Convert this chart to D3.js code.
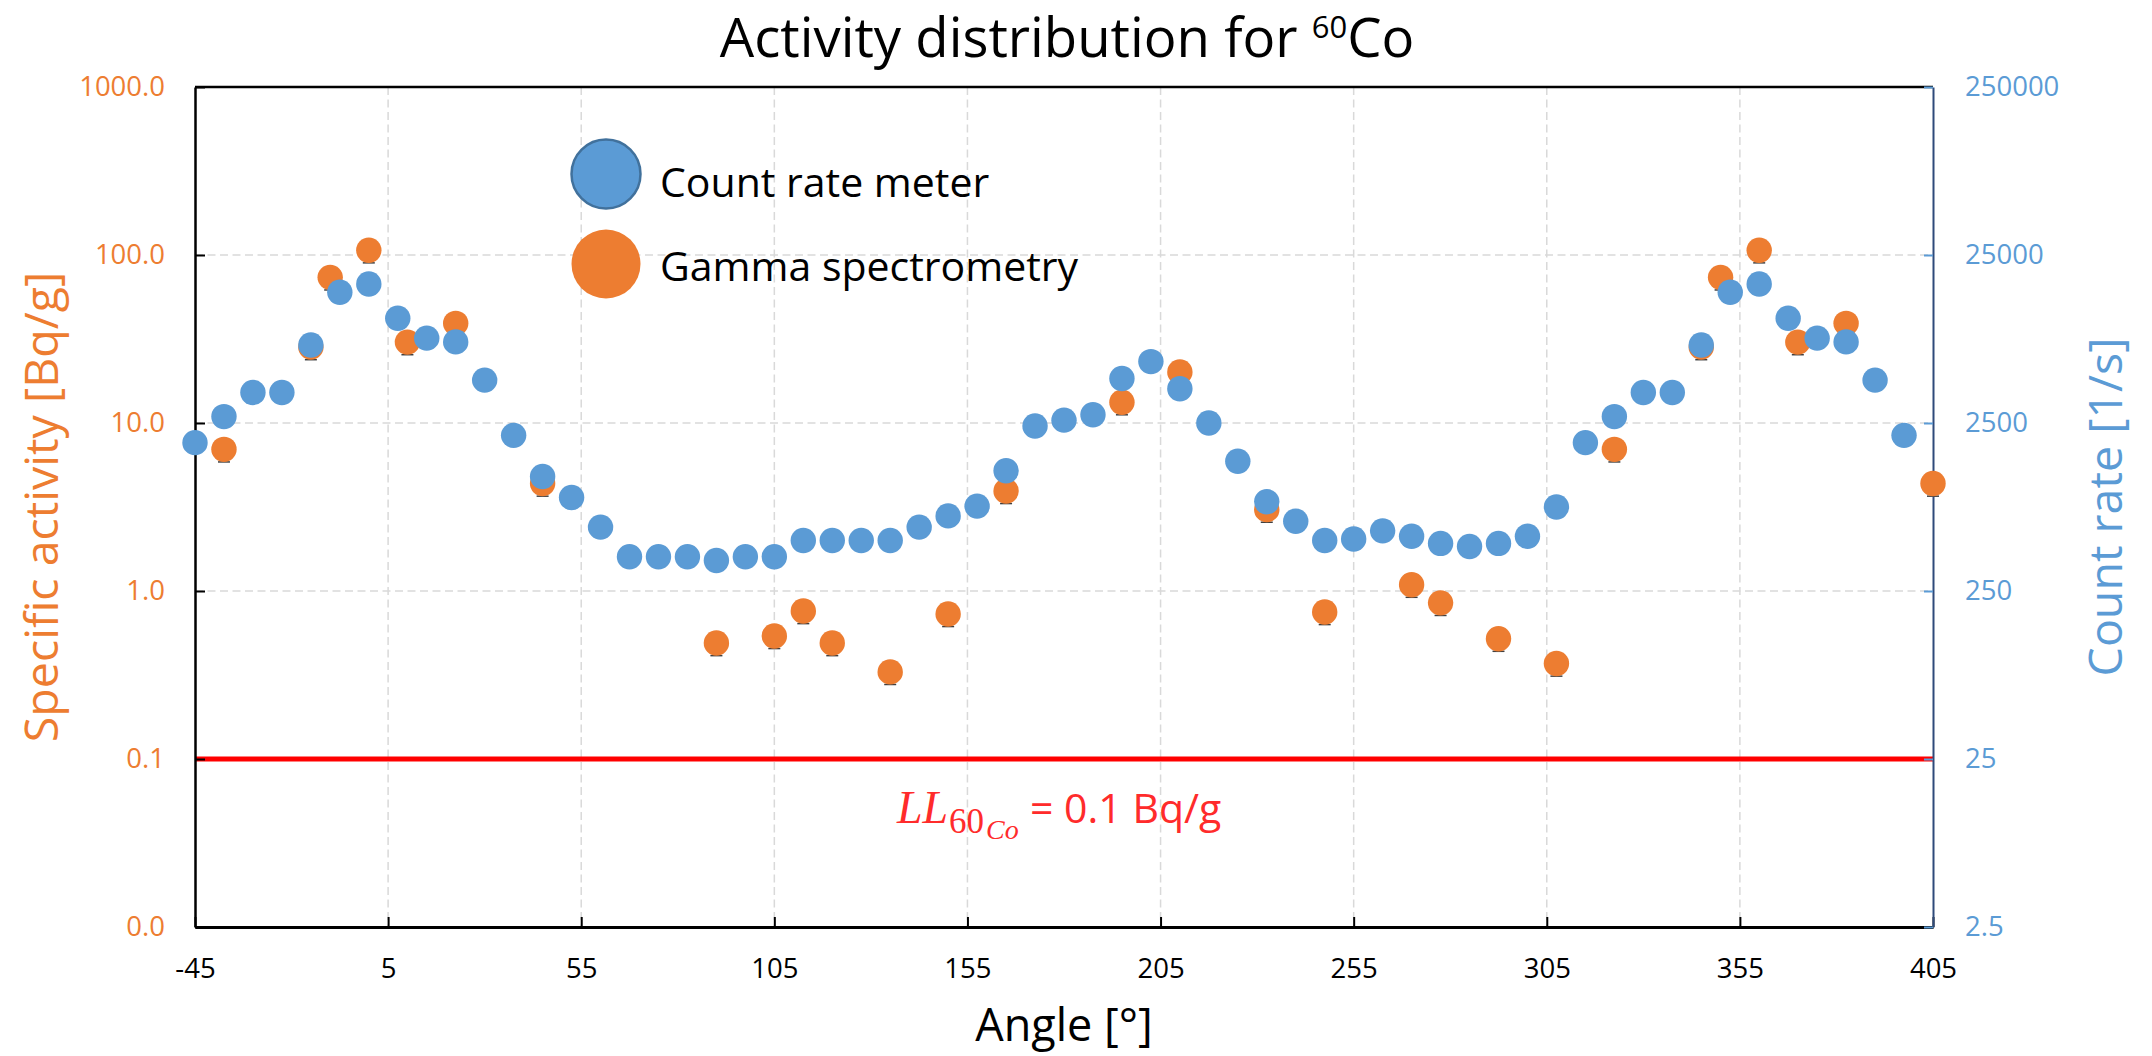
<!DOCTYPE html>
<html>
<head>
<meta charset="utf-8">
<script src="https://cdn.jsdelivr.net/npm/d3@7"></script>
<style>
  html, body { margin: 0; padding: 0; background: #fff; }
  figure { margin: 0; }
  svg { display: block; }
  text { white-space: pre; }
</style>
</head>
<body>
<figure id="chart"></figure>
<script>
// tick values / labels
const angleTicks = [-45, 5, 55, 105, 155, 205, 255, 305, 355, 405];
const activityTicks = [0.01, 0.1, 1, 10, 100, 1000];
const activityTickLabels = ['0.0', '0.1', '1.0', '10.0', '100.0', '1000.0'];
const countTicks = [2.5, 25, 250, 2500, 25000, 250000];
const countTickLabels = ['2.5', '25', '250', '2500', '25000', '250000'];

// count rate meter [1/s], every 7.5 degrees
const meterAngles = [
  -45, -37.5, -30, -22.5, -15, -7.5, 0, 7.5, 15, 22.5, 30, 37.5,
  45, 52.5, 60, 67.5, 75, 82.5, 90, 97.5, 105, 112.5, 120, 127.5,
  135, 142.5, 150, 157.5, 165, 172.5, 180, 187.5, 195, 202.5, 210, 217.5,
  225, 232.5, 240, 247.5, 255, 262.5, 270, 277.5, 285, 292.5, 300, 307.5,
  315, 322.5, 330, 337.5, 345, 352.5, 360, 367.5, 375, 382.5, 390, 397.5
];
const meterCounts = [
  1910, 2730, 3800, 3800, 7280, 15000, 16800, 10500, 8000, 7600, 4500, 2110,
  1200, 900, 600, 400, 400, 400, 380, 400, 400, 500, 500, 500,
  500, 600, 700, 800, 1300, 2400, 2600, 2800, 4600, 5800, 4000, 2500,
  1480, 850, 650, 500, 510, 570, 530, 480, 460, 480, 530, 790,
  1910, 2730, 3800, 3800, 7280, 15000, 16800, 10500, 8000, 7600, 4500, 2110
];

// gamma spectrometry [Bq/g]
const gammaAngles = [
  -37.5, -15, -10, 0, 10, 22.5, 45, 90, 105, 112.5, 120, 135, 150, 165,
  195, 210, 232.5, 247.5, 270, 277.5, 292.5, 307.5, 322.5, 345, 350, 360,
  370, 382.5, 405
];
const gammaActivity = [
  6.97, 28.3, 73.6, 106.7, 30.3, 39.2, 4.36, 0.49, 0.54, 0.76, 0.49, 0.33, 0.73, 3.94,
  13.3, 20.1, 3.05, 0.75, 1.09, 0.85, 0.52, 0.37, 6.97, 28.3, 73.6, 106.7,
  30.3, 39.2, 4.36
];

const detectionLimit = 0.1;

const width = 2152;
const height = 1056;
const margin = { top: 87, right: 219, bottom: 129, left: 195 };
const innerW = width - margin.left - margin.right;
const innerH = height - margin.top - margin.bottom;

const orange = '#ED7D31';
const blue = '#5B9BD5';
const font = "'Open Sans', 'Noto Sans', sans-serif";
const serif = "'Liberation Serif', 'DejaVu Serif', serif";

const x = d3.scaleLinear().domain([-45, 405]).range([0, innerW]);
const yLeft = d3.scaleLog().domain([0.01, 1000]).range([innerH, 0]);
const yRight = d3.scaleLog().domain([2.5, 250000]).range([innerH, 0]);

const svg = d3.select('figure#chart')
  .append('svg')
  .attr('width', width)
  .attr('height', height)
  .attr('font-family', font);

const g = svg.append('g')
  .attr('transform', `translate(${ margin.left },${ margin.top })`);

// dashed grid
g.append('g')
  .selectAll('line')
  .data([0.1, 1, 10, 100])
  .join('line')
  .attr('x1', 0)
  .attr('x2', innerW)
  .attr('y1', d => yLeft(d))
  .attr('y2', d => yLeft(d))
  .attr('stroke', '#D9D9D9')
  .attr('stroke-width', 1.5)
  .attr('stroke-dasharray', '8,4.5');

g.append('g')
  .selectAll('line')
  .data(angleTicks.slice(1, -1))
  .join('line')
  .attr('x1', d => x(d))
  .attr('x2', d => x(d))
  .attr('y1', 0)
  .attr('y2', innerH)
  .attr('stroke', '#D9D9D9')
  .attr('stroke-width', 1.5)
  .attr('stroke-dasharray', '8,4.5');

// limit line
g.append('line')
  .attr('x1', x(-45))
  .attr('x2', x(405))
  .attr('y1', yLeft(detectionLimit))
  .attr('y2', yLeft(detectionLimit))
  .attr('stroke', '#FF0000')
  .attr('stroke-width', 5);

// top border
g.append('line')
  .attr('x1', 0)
  .attr('x2', innerW)
  .attr('y1', 0)
  .attr('y2', 0)
  .attr('stroke', '#000')
  .attr('stroke-width', 2.5);

// axes
const xAxis = g.append('g')
  .attr('transform', `translate(0,${ innerH })`)
  .call(d3.axisBottom(x).tickValues(angleTicks).tickFormat(d => String(d))
    .tickSizeInner(-10).tickSizeOuter(0).tickPadding(31.5));
xAxis.select('.domain').attr('stroke', '#000').attr('stroke-width', 3);
xAxis.selectAll('.tick line').attr('stroke', '#000').attr('stroke-width', 2);
xAxis.selectAll('text')
  .attr('font-family', font)
  .attr('font-size', 27.5)
  .attr('fill', '#000');

const leftAxis = g.append('g')
  .call(d3.axisLeft(yLeft).tickValues(activityTicks)
    .tickFormat((d, i) => activityTickLabels[i])
    .tickSizeInner(-10).tickSizeOuter(0).tickPadding(30));
leftAxis.select('.domain').attr('stroke', '#000').attr('stroke-width', 2.5);
leftAxis.selectAll('.tick line').attr('stroke', '#000').attr('stroke-width', 2);
leftAxis.selectAll('text')
  .attr('font-family', font)
  .attr('font-size', 27.5)
  .attr('fill', orange);

const rightAxis = g.append('g')
  .attr('transform', `translate(${ innerW },0)`)
  .call(d3.axisRight(yRight).tickValues(countTicks)
    .tickFormat((d, i) => countTickLabels[i])
    .tickSizeInner(-9).tickSizeOuter(0).tickPadding(32));
rightAxis.select('.domain').attr('stroke', '#2F4A7A').attr('stroke-width', 2);
rightAxis.selectAll('.tick line').attr('stroke', blue).attr('stroke-width', 2);
rightAxis.selectAll('text')
  .attr('font-family', font)
  .attr('font-size', 27.5)
  .attr('fill', blue);

// gamma spectrometry points (with tiny error-bar caps peeking out)
const gamma = gammaAngles.map((a, i) => ({ a, v: gammaActivity[i] }));

g.append('g')
  .selectAll('line')
  .data(gamma)
  .join('line')
  .attr('x1', d => x(d.a) - 6)
  .attr('x2', d => x(d.a) + 6)
  .attr('y1', d => yLeft(d.v) + 12.6)
  .attr('y2', d => yLeft(d.v) + 12.6)
  .attr('stroke', '#404040')
  .attr('stroke-width', 1.5);

g.append('g')
  .selectAll('circle')
  .data(gamma)
  .join('circle')
  .attr('cx', d => x(d.a))
  .attr('cy', d => yLeft(d.v))
  .attr('r', 12.7)
  .attr('fill', orange);

// count rate meter points
g.append('g')
  .selectAll('circle')
  .data(meterAngles.map((a, i) => ({ a, v: meterCounts[i] })))
  .join('circle')
  .attr('cx', d => x(d.a))
  .attr('cy', d => yRight(d.v))
  .attr('r', 12.7)
  .attr('fill', blue);

// legend
const legend = [
  { name: 'Count rate meter', color: blue, stroke: '#41719C', cy: 174, ty: 197 },
  { name: 'Gamma spectrometry', color: orange, stroke: 'none', cy: 264, ty: 281 }
];
const lg = svg.append('g');
lg.selectAll('circle')
  .data(legend)
  .join('circle')
  .attr('cx', 606)
  .attr('cy', d => d.cy)
  .attr('r', 34.5)
  .attr('fill', d => d.color)
  .attr('stroke', d => d.stroke)
  .attr('stroke-width', 2.5);
lg.selectAll('text')
  .data(legend)
  .join('text')
  .attr('x', 660)
  .attr('y', d => d.ty)
  .attr('font-size', 41)
  .attr('fill', '#000')
  .text(d => d.name);

// title
const title = svg.append('text')
  .attr('x', 1067)
  .attr('y', 57)
  .attr('text-anchor', 'middle')
  .attr('font-size', 54.5)
  .attr('fill', '#000');
title.append('tspan').text('Activity distribution for ');
title.append('tspan').attr('font-size', 31).attr('dy', -19).text('60');
title.append('tspan').attr('dy', 19).text('Co');

// axis titles
svg.append('text')
  .attr('x', margin.left + innerW / 2)
  .attr('y', 1041)
  .attr('text-anchor', 'middle')
  .attr('font-size', 45)
  .attr('fill', '#000')
  .text('Angle [°]');

svg.append('text')
  .attr('transform', `translate(58,${ margin.top + innerH / 2 }) rotate(-90)`)
  .attr('text-anchor', 'middle')
  .attr('font-size', 46.5)
  .attr('fill', orange)
  .text('Specific activity [Bq/g]');

svg.append('text')
  .attr('transform', `translate(2122,${ margin.top + innerH / 2 }) rotate(-90)`)
  .attr('text-anchor', 'middle')
  .attr('font-size', 46.5)
  .attr('fill', blue)
  .text('Count rate [1/s]');

// limit annotation
const ll = svg.append('text')
  .attr('fill', '#FF2B2B');
ll.append('tspan')
  .attr('x', 897).attr('y', 823)
  .attr('font-family', serif)
  .attr('font-style', 'italic')
  .attr('font-size', 46)
  .text('LL');
ll.append('tspan')
  .attr('x', 949).attr('y', 833)
  .attr('font-family', serif)
  .attr('font-size', 35)
  .text('60');
ll.append('tspan')
  .attr('x', 986).attr('y', 839)
  .attr('font-family', serif)
  .attr('font-style', 'italic')
  .attr('font-size', 28)
  .text('Co');
ll.append('tspan')
  .attr('x', 1030).attr('y', 823)
  .attr('font-size', 41)
  .text('= 0.1 Bq/g');
</script>
</body>
</html>
